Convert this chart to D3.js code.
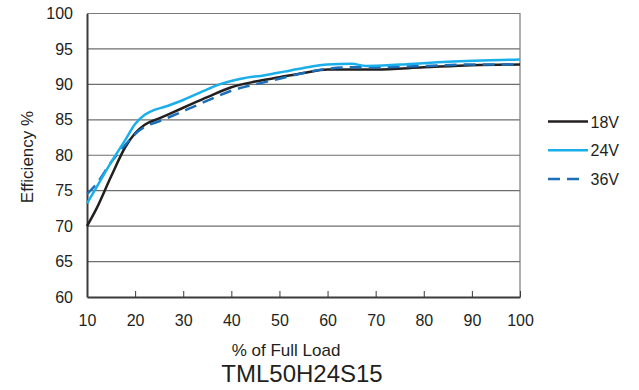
<!DOCTYPE html>
<html>
<head>
<meta charset="utf-8">
<script src="https://cdn.jsdelivr.net/npm/d3@7"></script>
<style>
  body { margin: 0; background: #fff; }
  text { font-family: "Liberation Sans", Arial, sans-serif; fill: #231f20; }
</style>
</head>
<body>
<div id="chart"></div>
<script>
// % of full load and efficiency per input voltage
const load18 = [10, 12, 15, 18, 20, 22, 25, 30, 35, 40, 45, 50, 55, 60, 65, 70, 80, 90, 100];
const eff18 = [70, 72.5, 77, 81.2, 83.1, 84.3, 85.2, 86.7, 88.2, 89.6, 90.4, 91.0, 91.6, 92.1, 92.1, 92.1, 92.4, 92.7, 92.8];

const load24 = [10, 12, 15, 18, 20, 22, 24, 26, 30, 35, 38, 42, 47, 51, 55, 60, 65, 68, 75, 85, 100];
const eff24 = [73.2, 75.5, 79, 82.2, 84.4, 85.7, 86.4, 86.8, 87.8, 89.3, 90.1, 90.8, 91.3, 91.8, 92.3, 92.8, 92.9, 92.6, 92.8, 93.2, 93.5];

const load36 = [10, 12, 15, 18, 20, 22, 25, 30, 35, 40, 45, 50, 55, 60, 65, 70, 80, 90, 100];
const eff36 = [74.5, 76, 79, 81.5, 83, 84, 84.8, 86.2, 87.7, 89.1, 90.0, 90.8, 91.6, 92.2, 92.4, 92.4, 92.6, 92.8, 92.8];

const xTicks = [10, 20, 30, 40, 50, 60, 70, 80, 90, 100];
const yTicks = [60, 65, 70, 75, 80, 85, 90, 95, 100];
const seriesNames = ["18V", "24V", "36V"];

const series = [
  { name: seriesNames[0], load: load18, eff: eff18, color: "#231f20", dash: null, keyLen: 40 },
  { name: seriesNames[1], load: load24, eff: eff24, color: "#1aaeea", dash: null, keyLen: 40 },
  { name: seriesNames[2], load: load36, eff: eff36, color: "#1b6fb8", dash: "12,7", keyLen: 31 }
];

const width = 639, height = 390;
const margin = { top: 13.5, right: 119, bottom: 93, left: 87 };
const w = width - margin.left - margin.right;
const h = height - margin.top - margin.bottom;

const svg = d3.select("#chart").append("svg")
  .attr("width", width)
  .attr("height", height);

const g = svg.append("g")
  .attr("transform", "translate(" + margin.left + "," + margin.top + ")");

const xScale = d3.scaleLinear().domain([10, 100]).range([0, w]);
const yScale = d3.scaleLinear().domain([60, 100]).range([h, 0]);

// grid lines
g.append("g")
  .selectAll("line")
  .data(yTicks.filter(function(d) { return d > 60 && d < 100; }))
  .join("line")
  .attr("x1", 0).attr("x2", w)
  .attr("y1", function(d) { return yScale(d); })
  .attr("y2", function(d) { return yScale(d); })
  .attr("stroke", "#6d6e70")
  .attr("stroke-width", 1.2);

// top and right border
g.append("path")
  .attr("d", "M0," + yScale(100) + "H" + w + "V" + h)
  .attr("fill", "none")
  .attr("stroke", "#7a7a7a")
  .attr("stroke-width", 1.2);

// x axis
const xAxis = d3.axisBottom(xScale).tickValues(xTicks).tickSizeInner(-6).tickSizeOuter(0).tickPadding(18);
const xg = g.append("g")
  .attr("transform", "translate(0," + h + ")")
  .call(xAxis);
xg.select(".domain").attr("stroke", "#3a3a3a").attr("stroke-width", 2);
xg.selectAll(".tick line").attr("stroke", "#3a3a3a").attr("stroke-width", 1);
xg.selectAll(".tick text").attr("font-size", 16).attr("fill", "#231f20")
  .style("font-family", "'Liberation Sans', Arial, sans-serif");

// y axis
const yAxis = d3.axisLeft(yScale).tickValues(yTicks).tickSize(0).tickPadding(14);
const yg = g.append("g").call(yAxis);
yg.select(".domain").attr("stroke", "#3a3a3a").attr("stroke-width", 2);
yg.selectAll(".tick text").attr("font-size", 16).attr("fill", "#231f20")
  .style("font-family", "'Liberation Sans', Arial, sans-serif");

// lines
const line = d3.line()
  .x(function(d) { return xScale(d[0]); })
  .y(function(d) { return yScale(d[1]); })
  .curve(d3.curveMonotoneX);

const lineOrder = [series[0], series[2], series[1]];
g.selectAll(".series")
  .data(lineOrder)
  .join("path")
  .attr("class", "series")
  .attr("fill", "none")
  .attr("stroke", function(d) { return d.color; })
  .attr("stroke-width", 2.5)
  .attr("stroke-dasharray", function(d) { return d.dash; })
  .attr("d", function(d) { return line(d3.zip(d.load, d.eff)); });

// axis titles
svg.append("text")
  .attr("transform", "translate(33,157) rotate(-90)")
  .attr("text-anchor", "middle")
  .attr("font-size", 17)
  .text("Efficiency %");

svg.append("text")
  .attr("x", 286).attr("y", 356)
  .attr("text-anchor", "middle")
  .attr("font-size", 17)
  .text("% of Full Load");

svg.append("text")
  .attr("x", 302).attr("y", 382)
  .attr("text-anchor", "middle")
  .attr("font-size", 24)
  .text("TML50H24S15");

// legend
const legendY = d3.scalePoint().domain(seriesNames).range([121.5, 179]);
const legend = svg.append("g")
  .selectAll("g")
  .data(series)
  .join("g")
  .attr("transform", function(d) { return "translate(548," + legendY(d.name) + ")"; });
legend.append("line")
  .attr("x1", 0).attr("x2", function(d) { return d.keyLen; })
  .attr("stroke", function(d) { return d.color; })
  .attr("stroke-width", 2.5)
  .attr("stroke-dasharray", function(d) { return d.dash; });
legend.append("text")
  .attr("x", 42.5).attr("y", 6)
  .attr("font-size", 16)
  .text(function(d) { return d.name; });
</script>
</body>
</html>
